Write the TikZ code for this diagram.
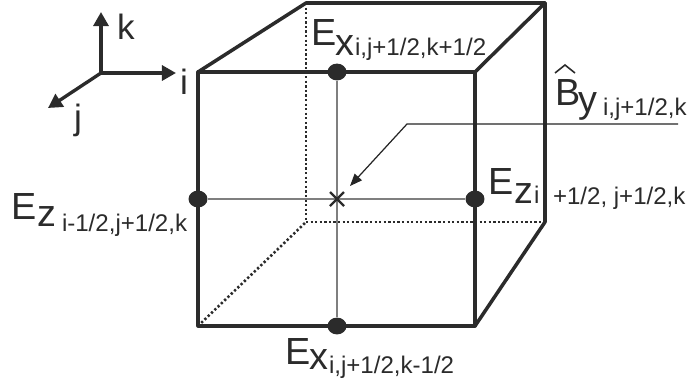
\documentclass[tikz,border=0pt]{standalone}
\usepackage{fontspec}
\setmainfont{Liberation Sans}
\usetikzlibrary{arrows.meta,shapes.geometric}
\definecolor{ink}{HTML}{2B2B2B}
\definecolor{thinink}{HTML}{7F7F7F}
\newcommand{\bigtxt}{\fontsize{21.5pt}{24pt}\selectfont}
\newcommand{\subtxt}{\fontsize{13.7pt}{16pt}\selectfont}
\newcommand{\axtxt}{\fontsize{20pt}{23pt}\selectfont}
\tikzset{
  x=0.02cm,y=-0.02cm,
  edgeline/.style={draw=ink,line width=1.75pt,line cap=round,line join=round},
  backedge/.style={draw=ink,line width=2pt,line cap=round,line join=round},
  hiddenline/.style={draw=ink,line width=1.45pt,dash pattern=on 1.3pt off 1.3pt},
  centreline/.style={draw=thinink,line width=0.8pt},
  axisline/.style={draw=ink,line width=1.9pt,-{Triangle[length=8pt,width=8.5pt]}},
  leaderline/.style={draw=ink!85!black,line width=0.7pt,-{Triangle[length=7pt,width=5.5pt]}},
  hatline/.style={draw=ink,line width=0.9pt},
  fielddot/.style={fill=ink,ellipse,inner sep=0pt,minimum width=10.8pt,minimum height=9.6pt},
  lbl/.style={inner sep=0pt,outer sep=0pt,text=ink,anchor=base west},
}
\begin{document}
\begin{tikzpicture}
\useasboundingbox (0,0) rectangle (690,383);
\fill[white] (0,0) rectangle (690,383);
% corners
\coordinate (ftl) at (198,72);
\coordinate (ftr) at (475,72);
\coordinate (fbl) at (198,326);
\coordinate (fbr) at (475,326);
\coordinate (btl) at (306,3);
\coordinate (btr) at (545,3);
\coordinate (bbl) at (306,222);
\coordinate (bbr) at (545,222);
% hidden edges
\draw[hiddenline] (btl) -- (bbl);
\draw[hiddenline] (bbl) -- (bbr);
\draw[hiddenline] (fbl) -- (bbl);
% field points
\node[fielddot] (top) at (337,72) {};
\node[fielddot] (bot) at (337,326) {};
\node[fielddot] (lft) at (198,199) {};
\node[fielddot] (rgt) at (475,199) {};
\coordinate (ctr) at (337,199);
% centre lines
\draw[centreline] (top) -- (bot);
\draw[centreline] (lft) -- (rgt);
% visible edges
\draw[backedge] (ftl) -- (btl) -- (btr) -- (ftr);
\draw[backedge] (btr) -- (bbr) -- (fbr);
\draw[edgeline] (ftl) -- (ftr) -- (fbr) -- (fbl) -- cycle;
% centre cross
\draw[draw=ink,line width=1.3pt] (330,192) -- (344,206) (330,206) -- (344,192);
% leader
\coordinate (leadend) at (678,124);
\coordinate (leadbend) at (407,124);
\coordinate (leadtip) at (350,186);
\draw[leaderline] (leadend) -- (leadbend) -- (leadtip);
% axes
\coordinate (orig) at (101,73);
\coordinate (ktip) at (101,12);
\coordinate (itip) at (176,73);
\coordinate (jtip) at (48,108);
\draw[axisline] (orig) -- (ktip);
\draw[axisline] (orig) -- (itip);
\draw[axisline] (orig) -- (jtip);
\node[lbl] (kl) at (117,39) {\axtxt k};
\node[lbl] (il) at (180,94) {\axtxt i};
\node[lbl] (jl) at (74,129) {\axtxt j};
% top Ex
\node[lbl] (e1) at (311,45) {\bigtxt E};
\node[lbl] (e1x) at (335,55) {\bigtxt x};
\node[lbl] (e1s) at (355,55) {\subtxt i,j+1/2,k+1/2};
% By
\node[lbl] (b) at (555,105) {\bigtxt B};
\draw[hatline] (555,73) -- (565,65) -- (575,73);
\node[lbl] (by) at (578,112) {\bigtxt y};
\node[lbl] (bs) at (603,115) {\subtxt i,j+1/2,k};
% left Ez
\node[lbl] (e2) at (11,219) {\bigtxt E};
\node[lbl] (e2z) at (37,226) {\bigtxt z};
\node[lbl] (e2s) at (62,231) {\subtxt i-1/2,j+1/2,k};
% right Ez
\node[lbl] (e3) at (488,194) {\bigtxt E};
\node[lbl] (e3z) at (514,203) {\bigtxt z};
\node[lbl] (e3i) at (534,203) {\subtxt i};
\node[lbl] (e3s) at (553,204) {\subtxt +1/2, j+1/2,k};
% bottom Ex
\node[lbl] (e4) at (285,364) {\bigtxt E};
\node[lbl] (e4x) at (309,369) {\bigtxt x};
\node[lbl] (e4s) at (329,373) {\subtxt i,j+1/2,k-1/2};
\end{tikzpicture}
\end{document}
